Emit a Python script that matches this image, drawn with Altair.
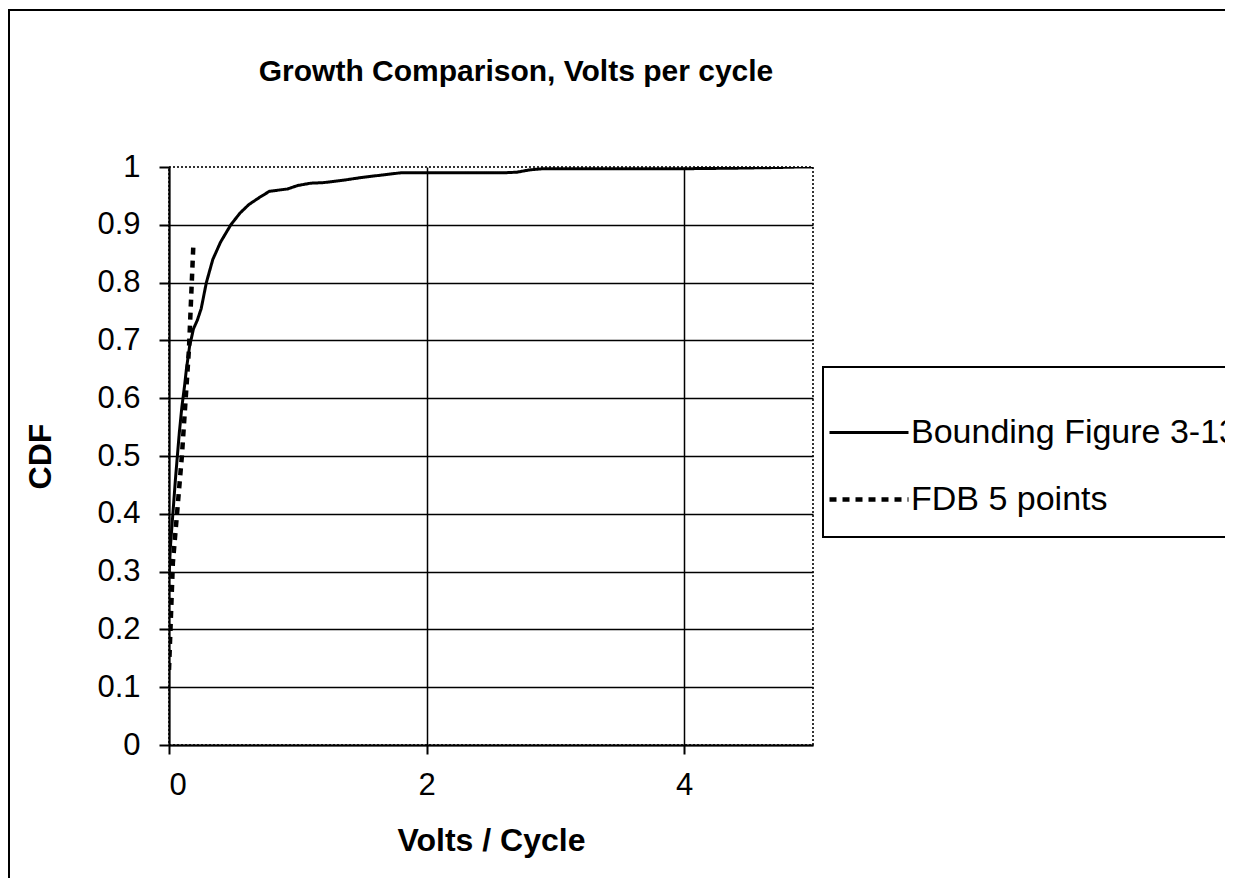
import altair as alt
import pandas as pd

# ---- data ----
series_names = ["Bounding Figure 3-13", "FDB 5 points"]

bound_x = [0.0, 0.01, 0.03, 0.05, 0.065, 0.08, 0.10, 0.12, 0.135, 0.16, 0.19, 0.22,
           0.25, 0.29, 0.34, 0.40, 0.48, 0.55, 0.62, 0.70, 0.78, 0.85, 0.92, 1.0,
           1.1, 1.2, 1.35, 1.5, 1.65, 1.8, 2.0, 2.3, 2.6, 2.7, 2.8, 2.9, 3.2, 3.6,
           4.0, 4.4, 4.7, 4.9, 5.0]
bound_y = [0.29, 0.34, 0.40, 0.46, 0.50, 0.54, 0.585, 0.62, 0.65, 0.69, 0.72, 0.735,
           0.755, 0.80, 0.84, 0.87, 0.90, 0.92, 0.935, 0.947, 0.958, 0.96, 0.962, 0.968,
           0.972, 0.973, 0.977, 0.982, 0.986, 0.99, 0.99, 0.99, 0.99, 0.991, 0.995, 0.997,
           0.997, 0.997, 0.997, 0.998, 0.999, 1.0, 1.0]

fdb_x = [0.0, 0.03, 0.10, 0.155, 0.19]
fdb_y = [0.13, 0.315, 0.50, 0.685, 0.87]

x_ticks = [0, 2, 4]
y_ticks = [0, 0.1, 0.2, 0.3, 0.4, 0.5, 0.6, 0.7, 0.8, 0.9, 1]

title_text = "Growth Comparison, Volts per cycle"
x_title = "Volts / Cycle"
y_title = "CDF"

FONT = "Liberation Sans"

df = pd.concat([
    pd.DataFrame({"x": bound_x, "y": bound_y, "series": series_names[0]}),
    pd.DataFrame({"x": fdb_x, "y": fdb_y, "series": series_names[1]}),
], ignore_index=True)

lines = alt.Chart(df).mark_line(color="black", clip=True).encode(
    x=alt.X("x:Q",
            scale=alt.Scale(domain=[0, 5], nice=False, zero=False),
            axis=alt.Axis(values=x_ticks, title=x_title, format="d",
                          labelFontSize=31, labelPadding=16, tickSize=9,
                          titleFontSize=32, titleFontWeight="bold",
                          titleY=95, titleBaseline="middle")),
    y=alt.Y("y:Q",
            scale=alt.Scale(domain=[0, 1], nice=False),
            axis=alt.Axis(values=y_ticks, title=y_title,
                          labelExpr="datum.value == 0 ? '0' : datum.value == 1 ? '1' : format(datum.value, '.1f')",
                          labelFontSize=31, labelPadding=19, tickSize=10,
                          titleFontSize=32, titleFontWeight="bold",
                          titleAngle=-90, titleX=-129, titleY=289,
                          titleAlign="center", titleBaseline="middle",
                          gridOpacity={"condition": {"test": "datum.value >= 1", "value": 0}, "value": 1})),
    strokeDash=alt.StrokeDash(
        "series:N",
        scale=alt.Scale(domain=series_names, range=[[1, 0], [7, 6]]),
        legend=alt.Legend(title=" ", orient="none", legendX=654, legendY=200,
                          padding=4, strokeColor="black",
                          symbolType="stroke", symbolSize=6241,
                          symbolStrokeWidth=3, symbolStrokeColor="black",
                          clipHeight=67, rowPadding=0,
                          labelFontSize=34, labelFont=FONT, labelLimit=1000,
                          labelOffset=0, titleFontSize=12, titlePadding=16)),
    strokeWidth=alt.StrokeWidth(
        "series:N",
        scale=alt.Scale(domain=series_names, range=[3, 4.5]),
        legend=None),
)

frame = alt.Chart(pd.DataFrame({"k": [0]})).mark_rect(
    fillOpacity=0, stroke="black", strokeWidth=2
).encode(
    x=alt.value(-160), x2=alt.value(1200),
    y=alt.value(-157), y2=alt.value(900),
)

chart = alt.layer(frame, lines).properties(
    width=644, height=578,
    autosize=alt.AutoSizeParams(type="none"),
    padding={"left": 161, "top": 159, "right": 412, "bottom": 133},
    title=alt.TitleParams(title_text, fontSize=30, font=FONT, fontWeight="bold",
                          anchor="middle", dx=25, offset=0, dy=78, color="black"),
).configure_view(
    stroke="#333", strokeDash=[2, 2], strokeWidth=2
).configure_axis(
    labelFont=FONT, titleFont=FONT, labelColor="black", titleColor="black",
    domainColor="black", domainWidth=2, tickColor="black", tickWidth=2,
    gridColor="black", gridWidth=1.5,
).configure_legend(
    strokeWidth=2
)

chart.save("out.html", embed_options={"renderer": "svg", "actions": False})
